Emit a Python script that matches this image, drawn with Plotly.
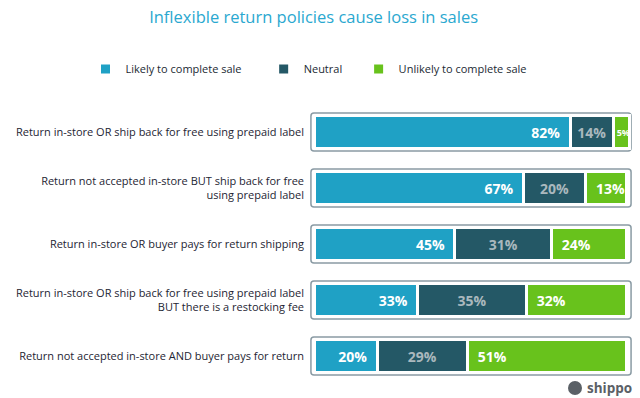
import plotly.graph_objects as go

categories = [
    "Return in-store OR ship back for free using prepaid label",
    "Return not accepted in-store BUT ship back for free<br>using prepaid label",
    "Return in-store OR buyer pays for return shipping",
    "Return in-store OR ship back for free using prepaid label<br>BUT there is a restocking fee",
    "Return not accepted in-store AND buyer pays for return",
]
likely = [82, 67, 45, 33, 20]
neutral = [14, 20, 31, 35, 29]
unlikely = [5, 13, 24, 32, 51]
series_names = ["Likely to complete sale", "Neutral", "Unlikely to complete sale"]
title_text = "Inflexible return policies cause loss in sales"

C_BLUE = "#1fa1c5"
C_NAVY = "#245866"
C_GREEN = "#68c21c"
NB = "\u00a0"

ypos = list(range(len(categories)))

W, H = 640, 398
ML, MR, MT, MB = 0, 8, 104, 14
PLOT_X0 = 310  # pixel where x axis starts
XR = [-1.6, 101.9]

fig = go.Figure()

def tr(vals, name, pad, color, anchor, tcolor, texts):
    fig.add_trace(go.Bar(
        y=ypos, x=vals, name=name + NB * pad, orientation="h",
        marker=dict(color=color, line=dict(color="white", width=3)),
        width=0.59,
        text=texts, textposition="inside", insidetextanchor=anchor,
        textangle=0,
        textfont=dict(color=tcolor, size=[14 if v >= 10 else 9 for v in vals],
                      family="Open Sans"),
        constraintext="none", cliponaxis=False,
        hoverinfo="skip",
    ))

tr(likely, series_names[0], 6, C_BLUE, "end", "white",
   [f"<b>{v}%</b>" + NB * 2 for v in likely])
tr(neutral, series_names[1], 4, C_NAVY, "middle", "#aab8be",
   [f"<b>{v}%</b>" for v in neutral])
tr(unlikely, series_names[2], 0, C_GREEN, "start", "white",
   [(NB * 2 if v >= 10 else "") + f"<b>{v}%</b>" for v in unlikely])

pw_full = W - ML - MR
dom0 = (PLOT_X0 - ML) / pw_full
pw = W - MR - PLOT_X0
ph = H - MT - MB
ux = (XR[1] - XR[0]) / pw
uy = len(categories) / ph
rx, ry = 3 * ux, 3 * uy
shapes = []
for i in ypos:
    x0, x1 = -1.3, 101.6
    y0, y1 = i - 0.34, i + 0.34
    path = (f"M {x0+rx},{y0} L {x1-rx},{y0} Q {x1},{y0} {x1},{y0+ry} "
            f"L {x1},{y1-ry} Q {x1},{y1} {x1-rx},{y1} L {x0+rx},{y1} "
            f"Q {x0},{y1} {x0},{y1-ry} L {x0},{y0+ry} Q {x0},{y0} {x0+rx},{y0} Z")
    shapes.append(dict(type="path", path=path, xref="x", yref="y",
                       line=dict(color="#8a9ba4", width=1.5),
                       fillcolor="white", layer="below"))

# shippo logo circle
cx = (575 - ML) / pw_full
cy = (H - MB - 388) / ph
shapes.append(dict(type="circle", xref="paper", yref="paper",
                   x0=cx - 7 / pw_full, x1=cx + 7 / pw_full,
                   y0=cy - 7 / ph, y1=cy + 7 / ph,
                   fillcolor="#5a6066", line=dict(width=0)))

fig.update_layout(
    width=W, height=H,
    margin=dict(l=ML, r=MR, t=MT, b=MB, autoexpand=False),
    paper_bgcolor="white", plot_bgcolor="white",
    barmode="stack",
    showlegend=True,
    title=dict(text=title_text, x=0.49, xanchor="center", y=1 - 17 / H,
               yanchor="middle", yref="container", xref="container",
               font=dict(family="Open Sans", size=16.5, color="#2aa8d0")),
    legend=dict(orientation="h", xref="container", yref="container",
                x=0.482, xanchor="center", y=1 - 69 / H, yanchor="middle",
                font=dict(family="Open Sans", size=11, color="#222a33"),
                traceorder="normal", itemclick=False),
    xaxis=dict(range=XR, visible=False, fixedrange=True, domain=[dom0, 1]),
    yaxis=dict(range=[len(categories) - 0.5, -0.5], tickmode="array",
               tickvals=ypos, ticktext=categories, showgrid=False,
               zeroline=False, showline=False, ticks="", automargin=False,
               ticklabelstandoff=5, fixedrange=True,
               tickfont=dict(family="Open Sans", size=11, color="#1e2533")),
    shapes=shapes,
    annotations=[dict(text="<b>shippo</b>", xref="paper", yref="paper",
                      x=cx + 10 / pw_full, y=cy, xanchor="left", yanchor="middle",
                      showarrow=False,
                      font=dict(family="Open Sans", size=13.5, color="#5a6066"))],
)

fig.write_html("out.html", config={"displayModeBar": False},
               post_script="document.body.style.margin='0';document.body.style.overflow='hidden';")
